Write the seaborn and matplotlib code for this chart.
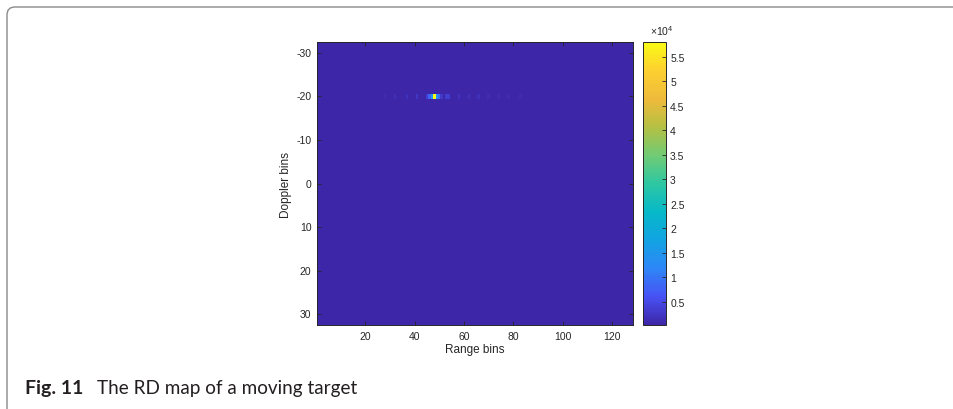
import numpy as np
import pandas as pd
import seaborn as sns
import matplotlib
matplotlib.use('Agg')
from matplotlib import pyplot as plt
from matplotlib.colors import LinearSegmentedColormap
from matplotlib.patches import FancyBboxPatch

# RD map data: 128 range bins x 65 doppler bins, one target at doppler -20
range_bins = np.arange(1, 129)
doppler_bins = np.arange(-32, 33)
noise_floor = 300
target_doppler = -20
target_range = [28, 32, 37, 41, 45, 46, 47, 48, 49, 50, 51, 53, 54, 58, 62, 66, 70, 74, 78, 83]
target_power = [1200, 1500, 1800, 2500, 3500, 8000, 15000, 58000, 14000, 9000, 3000,
                3500, 3500, 2000, 1700, 1500, 1300, 1200, 1100, 1000]

xtick_vals = [20, 40, 60, 80, 100, 120]
ytick_vals = [-30, -20, -10, 0, 10, 20, 30]
cbar_ticks = [5000, 10000, 15000, 20000, 25000, 30000, 35000, 40000, 45000, 50000, 55000]
cbar_labels = ['0.5', '1', '1.5', '2', '2.5', '3', '3.5', '4', '4.5', '5', '5.5']

rd = pd.DataFrame(float(noise_floor), index=doppler_bins, columns=range_bins)
rd.loc[target_doppler, target_range] = target_power

# parula-like colormap
parula = LinearSegmentedColormap.from_list('parula', [
    (0.2422, 0.1504, 0.6603), (0.2810, 0.3228, 0.9579), (0.1786, 0.5289, 0.9682),
    (0.0689, 0.6403, 0.8877), (0.0267, 0.7238, 0.7839), (0.1802, 0.7804, 0.6357),
    (0.4420, 0.7948, 0.4578), (0.7082, 0.7526, 0.2633), (0.9378, 0.7309, 0.2306),
    (0.9892, 0.8136, 0.1885), (0.9769, 0.9839, 0.0805)])

plt.rcParams['font.family'] = ['Liberation Sans', 'DejaVu Sans']
plt.rcParams['mathtext.default'] = 'regular'
txt = '#262626'

fig = plt.figure(figsize=(9.54, 4.1), dpi=100)
ax = fig.add_axes([0.3323, 0.2049, 0.3312, 0.690])
cax = fig.add_axes([0.674, 0.2049, 0.0241, 0.690])

sns.heatmap(rd, cmap=parula, ax=ax, cbar_ax=cax,
            vmin=rd.values.min(), vmax=rd.values.max(),
            cbar_kws={'ticks': cbar_ticks})

ax.set_xticks([list(range_bins).index(v) + 0.5 for v in xtick_vals])
ax.set_xticklabels(xtick_vals, rotation=0)
ax.set_yticks([list(doppler_bins).index(v) + 0.5 for v in ytick_vals])
ax.set_yticklabels(ytick_vals, rotation=0)
ax.tick_params(direction='in', top=True, right=True, length=3, width=0.6,
               labelsize=7.5, colors=txt, pad=4)
for s in ax.spines.values():
    s.set_visible(True)
    s.set_linewidth(0.7)
    s.set_color(txt)
ax.set_xlabel('Range bins', fontsize=8.5, color=txt, labelpad=2)
ax.set_ylabel('Doppler bins', fontsize=8.5, color=txt, labelpad=3)

cb = ax.collections[0].colorbar
cb.outline.set_linewidth(0.7)
cb.outline.set_edgecolor(txt)
cb.set_ticklabels(cbar_labels)
cax.tick_params(direction='in', length=3, width=0.6, labelsize=7.5, colors=txt, pad=3)
fig.text(650 / 954, 1 - 36 / 410, r'$\times10^{4}$', fontsize=7.5, color=txt)

# panel frame and caption
frame = FancyBboxPatch((0.07, -0.3), 10.0, 4.32, boxstyle='round,pad=0,rounding_size=0.08',
                       transform=fig.dpi_scale_trans, fill=False, edgecolor='#8a8a8a', lw=1.0)
fig.patches.append(frame)
fig.text(25 / 954, 1 - 394 / 410, 'Fig. 11', fontsize=14, fontweight='bold',
         family=['Lato', 'DejaVu Sans'], color='#231f20')
fig.text(97 / 954, 1 - 394 / 410, 'The RD map of a moving target', fontsize=13.6,
         family=['Lato', 'DejaVu Sans'], color='#231f20')

fig.savefig('out.png', dpi=100)
